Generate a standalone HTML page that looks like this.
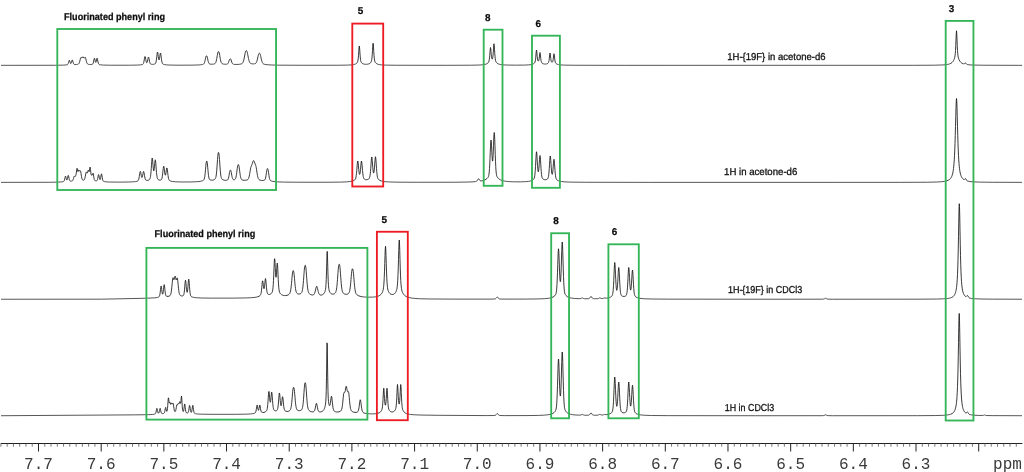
<!DOCTYPE html>
<html><head><meta charset="utf-8"><title>NMR</title>
<style>
html,body{margin:0;padding:0;background:#fff;}
body{width:1024px;height:472px;overflow:hidden;font-family:"Liberation Sans",sans-serif;}
svg{display:block}
.tx{filter:grayscale(1)}
.ax{font-family:"Liberation Mono",monospace;font-size:16px;fill:#3a3a3a}
.b{text-rendering:geometricPrecision;font-family:"Liberation Sans",sans-serif;font-weight:bold;font-size:9.9px;fill:#0c0c0c;stroke:#0c0c0c;stroke-width:0.25px}
.r{text-rendering:geometricPrecision;font-family:"Liberation Sans",sans-serif;font-size:10.0px;fill:#111;stroke:#111;stroke-width:0.3px}
</style></head><body>
<svg width="1024" height="472" viewBox="0 0 1024 472">
<rect width="1024" height="472" fill="#fff"/>
<path d="M1.00,65.34 L55.25,65.27 L63.25,65.13 L66.00,64.95 L67.00,64.79 L67.50,64.59 L67.75,64.37 L68.00,63.99 L68.25,63.40 M73.75,64.00 L74.00,64.28 L74.25,64.42 L75.00,64.56 L76.50,64.54 L77.75,64.35 L78.25,64.16 L78.50,64.00 L78.75,63.75 M87.50,63.88 L87.75,64.08 L88.25,64.30 L89.25,64.48 L90.75,64.54 L92.00,64.42 L92.50,64.22 L92.75,63.99 L93.00,63.57 M98.75,64.15 L99.00,64.40 L99.50,64.64 L100.75,64.87 L103.50,65.08 L110.50,65.22 L129.50,65.23 L137.25,65.09 L140.50,64.87 L142.00,64.62 L142.50,64.46 L142.75,64.33 L143.00,64.12 L143.25,63.76 L143.50,63.19 M150.50,63.95 L150.75,64.13 L151.25,64.29 L152.50,64.38 L153.75,64.28 L154.75,64.03 L155.00,63.91 L155.25,63.72 M162.75,63.92 L163.25,64.24 L164.25,64.54 L166.25,64.85 L169.75,65.07 L178.00,65.19 L192.00,65.14 L198.25,64.97 L201.25,64.72 L202.75,64.45 L203.25,64.27 L203.50,64.13 L203.75,63.92 L204.00,63.61 M209.50,63.90 L210.00,64.09 L211.00,64.22 L212.50,64.21 L213.75,64.05 L214.50,63.84 L214.75,63.72 M222.50,63.84 L223.50,64.10 L225.25,64.26 L226.50,64.23 L227.25,64.07 L227.50,63.94 L227.75,63.74 M232.75,63.90 L233.00,64.08 L233.50,64.27 L234.75,64.43 L237.00,64.46 L239.25,64.30 L241.00,63.99 L241.75,63.73 M251.75,63.76 L253.25,63.88 L254.50,63.80 L255.00,63.69 M263.25,63.76 L263.75,64.06 L264.75,64.36 L267.00,64.69 L271.00,64.97 L278.75,65.16 L301.25,65.28 L338.25,65.24 L347.50,65.10 L351.50,64.88 L353.50,64.61 L354.75,64.30 L355.75,63.89 L356.25,63.59 M363.00,63.79 L364.00,64.10 L365.25,64.27 L366.75,64.27 L368.00,64.10 L369.00,63.80 L369.25,63.70 M376.75,63.76 L377.75,64.20 L379.25,64.59 L381.50,64.89 L385.75,65.11 L396.25,65.26 L446.25,65.31 L471.75,65.21 L479.25,65.03 L482.75,64.78 L484.75,64.47 L486.00,64.12 L487.00,63.67 M498.00,63.76 L499.00,64.17 L500.50,64.54 L502.75,64.83 L506.75,65.05 L515.25,65.16 L524.50,65.09 L528.75,64.89 L531.00,64.62 L532.25,64.33 L533.25,63.94 L533.75,63.65 M543.25,63.79 L544.25,64.02 L545.50,64.07 L546.50,63.93 L547.25,63.68 M556.50,63.88 L557.25,64.24 L558.50,64.60 L560.50,64.89 L564.25,65.11 L573.75,65.26 L625.75,65.33 L913.75,65.30 L934.50,65.19 L941.75,64.99 L945.50,64.73 L947.75,64.40 L949.25,64.03 L950.25,63.66 M963.25,63.76 L963.75,63.87 L964.00,63.86 L964.25,63.78 L964.50,63.62 M966.25,63.89 L966.50,64.17 L966.75,64.37 L967.25,64.57 L969.00,64.81 L973.25,65.06 L982.75,65.23 L1018.25,65.33 L1022.00,65.33" fill="none" stroke="#141414" stroke-width="0.72" stroke-linejoin="round" stroke-linecap="butt"/>
<path d="M68.25,63.40 L68.50,62.59 L68.75,61.65 L69.00,60.78 L69.25,60.32 L69.50,60.48 L69.75,61.16 L70.00,62.04 L70.25,62.82 L70.50,63.36 L70.75,63.57 L71.00,63.43 L71.25,62.96 L71.50,62.19 L71.75,61.24 L72.00,60.36 L72.25,59.91 L72.50,60.13 L72.75,60.91 L73.00,61.90 L73.25,62.83 L73.50,63.53 L73.75,64.00 M78.75,63.75 L79.00,63.38 L79.25,62.86 L79.50,62.16 L79.75,61.29 L80.25,59.24 L80.50,58.30 L80.75,57.62 L81.00,57.33 L81.25,57.40 L81.75,57.85 L82.00,57.86 L82.25,57.63 L82.75,56.84 L83.00,56.70 L83.25,56.92 L83.75,57.84 L84.00,58.12 L84.25,58.13 L84.50,57.88 L84.75,57.52 L85.00,57.27 L85.25,57.35 L85.50,57.86 L85.75,58.72 L86.25,60.80 L86.50,61.76 L86.75,62.54 L87.00,63.15 L87.25,63.58 L87.50,63.88 M93.00,63.57 L93.25,62.89 L93.50,61.88 L94.00,59.31 L94.25,58.39 L94.50,58.26 L94.75,58.98 L95.25,61.29 L95.50,62.10 L95.75,62.38 L96.00,62.10 L96.25,61.29 L96.75,58.97 L97.00,58.26 L97.25,58.40 L97.50,59.35 L98.00,61.97 L98.25,63.00 L98.50,63.72 L98.75,64.15 M143.50,63.19 L143.75,62.33 L144.00,61.14 L144.50,58.20 L144.75,56.99 L145.00,56.50 L145.25,56.92 L145.50,58.05 L145.75,59.46 L146.00,60.81 L146.25,61.86 L146.50,62.51 L146.75,62.75 L147.00,62.57 L147.25,61.98 L147.50,61.01 L147.75,59.76 L148.00,58.45 L148.25,57.40 L148.50,57.00 L148.75,57.45 L149.00,58.55 L149.50,61.25 L149.75,62.34 L150.00,63.13 L150.25,63.64 L150.50,63.95 M155.25,63.72 L155.50,63.41 L155.75,62.89 L156.00,62.04 L156.25,60.75 L156.50,58.97 L156.75,56.81 L157.00,54.56 L157.25,52.75 L157.50,52.00 L157.75,52.62 L158.00,54.28 L158.25,56.34 L158.50,58.20 L158.75,59.49 L159.00,60.00 L159.25,59.67 L159.50,58.57 L159.75,56.91 L160.00,55.05 L160.25,53.55 L160.50,53.00 L160.75,53.71 L161.00,55.39 L161.25,57.47 L161.50,59.48 L161.75,61.13 L162.00,62.33 L162.25,63.13 L162.50,63.62 L162.75,63.92 M204.00,63.61 L204.25,63.16 L204.50,62.53 L204.75,61.69 L205.00,60.66 L205.50,58.28 L205.75,57.20 L206.00,56.40 L206.25,55.95 L206.50,55.80 L206.75,55.93 L207.00,56.36 L207.25,57.14 L207.50,58.21 L208.00,60.55 L208.25,61.56 L208.50,62.38 L208.75,62.99 L209.00,63.43 L209.25,63.71 L209.50,63.90 M214.75,63.72 L215.00,63.55 L215.25,63.31 L215.50,62.97 L215.75,62.48 L216.00,61.82 L216.25,60.94 L216.50,59.85 L216.75,58.54 L217.25,55.58 L217.50,54.15 L217.75,52.96 L218.00,52.12 L218.25,51.65 L218.50,51.50 L218.75,51.65 L219.00,52.12 L219.25,52.95 L219.50,54.14 L219.75,55.58 L220.25,58.54 L220.50,59.85 L220.75,60.94 L221.00,61.82 L221.25,62.48 L221.50,62.97 L221.75,63.31 L222.00,63.55 L222.50,63.84 M227.75,63.74 L228.00,63.43 L228.25,63.01 L228.50,62.45 L228.75,61.76 L229.25,60.23 L229.50,59.56 L229.75,59.10 L230.00,58.85 L230.25,58.80 L230.50,58.93 L230.75,59.27 L231.00,59.83 L231.75,62.09 L232.00,62.73 L232.25,63.25 L232.50,63.63 L232.75,63.90 M241.75,63.73 L242.25,63.40 L242.50,63.14 L242.75,62.81 L243.00,62.36 L243.25,61.78 L243.50,61.04 L243.75,60.15 L244.00,59.09 L244.25,57.89 L245.00,53.93 L245.25,52.76 L245.50,51.82 L245.75,51.16 L246.00,50.76 L246.25,50.61 L246.50,50.67 L246.75,50.95 L247.00,51.50 L247.25,52.32 L247.50,53.39 L247.75,54.65 L248.25,57.30 L248.50,58.54 L248.75,59.65 L249.00,60.60 L249.25,61.38 L249.50,62.01 L249.75,62.50 L250.00,62.86 L250.25,63.14 L250.75,63.48 L251.50,63.72 L251.75,63.76 M255.00,63.69 L255.50,63.47 L255.75,63.28 L256.00,63.01 L256.25,62.65 L256.50,62.17 L256.75,61.55 L257.00,60.78 L257.25,59.87 L257.50,58.83 L258.00,56.57 L258.25,55.49 L258.50,54.57 L258.75,53.88 L259.00,53.44 L259.25,53.23 L259.50,53.22 L259.75,53.41 L260.00,53.82 L260.25,54.48 L260.50,55.38 L260.75,56.45 L261.25,58.76 L261.50,59.84 L261.75,60.80 L262.00,61.62 L262.25,62.29 L262.50,62.82 L262.75,63.23 L263.00,63.54 L263.25,63.76 M356.25,63.59 L356.75,63.18 L357.00,62.91 L357.25,62.55 L357.50,62.05 L357.75,61.29 L358.00,60.07 L358.25,58.15 L358.50,55.35 L358.75,51.76 L359.00,48.09 L359.25,45.97 L359.50,46.93 L359.75,50.21 L360.00,53.96 L360.25,57.09 L360.50,59.34 L360.75,60.81 L361.00,61.72 L361.25,62.29 L361.50,62.68 L361.75,62.97 L362.25,63.38 L363.00,63.79 M369.25,63.70 L370.00,63.26 L370.50,62.83 L370.75,62.54 L371.00,62.16 L371.25,61.64 L371.50,60.85 L371.75,59.57 L372.00,57.54 L372.25,54.52 L372.50,50.53 L372.75,46.20 L373.00,43.21 L373.25,43.59 L373.50,47.04 L373.75,51.42 L374.00,55.24 L374.25,58.06 L374.50,59.93 L374.75,61.10 L375.00,61.84 L375.25,62.33 L375.50,62.70 L376.00,63.23 L376.75,63.76 M487.00,63.67 L487.75,63.14 L488.25,62.62 L488.50,62.25 L488.75,61.74 L489.00,60.97 L489.25,59.76 L489.50,57.91 L489.75,55.29 L490.00,52.06 L490.25,48.96 L490.50,47.50 L490.75,48.68 L491.00,51.50 L491.25,54.43 L491.50,56.71 L491.75,58.18 L492.00,58.92 L492.25,59.06 L492.50,58.63 L492.75,57.53 L493.00,55.57 L493.25,52.61 L493.50,48.88 L493.75,45.29 L494.00,43.75 L494.25,45.51 L494.50,49.33 L494.75,53.31 L495.00,56.53 L495.25,58.80 L495.50,60.27 L495.75,61.20 L496.00,61.82 L496.25,62.25 L496.50,62.59 L497.00,63.10 L497.75,63.62 L498.00,63.76 M533.75,63.65 L534.25,63.24 L534.50,62.96 L534.75,62.58 L535.00,62.00 L535.25,61.06 L535.50,59.56 L535.75,57.30 L536.25,51.41 L536.50,50.00 L536.75,51.25 L537.25,56.81 L537.50,58.89 L537.75,60.19 L538.00,60.87 L538.25,61.13 L538.50,61.03 L538.75,60.55 L539.00,59.56 L539.25,57.93 L539.75,53.49 L540.00,52.50 L540.25,53.66 L540.75,58.45 L541.00,60.29 L541.25,61.51 L541.50,62.27 L541.75,62.74 L542.00,63.05 L542.50,63.44 L543.25,63.79 M547.25,63.68 L547.75,63.40 L548.00,63.19 L548.25,62.91 L548.50,62.47 L548.75,61.74 L549.00,60.55 L549.25,58.77 L549.75,54.10 L550.00,53.00 L550.25,54.02 L550.75,58.50 L551.00,60.18 L551.25,61.26 L551.50,61.86 L551.75,62.15 L552.00,62.25 L552.25,62.19 L552.50,61.94 L552.75,61.41 L553.00,60.42 L553.25,58.86 L553.75,54.69 L554.00,53.75 L554.25,54.81 L554.75,59.23 L555.00,60.93 L555.25,62.06 L555.50,62.77 L555.75,63.20 L556.00,63.49 L556.50,63.88 M950.25,63.66 L951.25,63.12 L952.00,62.54 L952.50,62.03 L953.00,61.40 L953.50,60.61 L953.75,60.13 L954.00,59.58 L954.25,58.95 L954.50,58.19 L954.75,57.23 L955.00,55.86 L955.25,53.78 L955.50,50.53 L955.75,45.78 L956.25,33.59 L956.50,30.80 L956.75,33.59 L957.25,45.77 L957.50,50.53 L957.75,53.77 L958.00,55.85 L958.25,57.22 L958.50,58.18 L958.75,58.94 L959.00,59.57 L959.25,60.11 L959.75,61.01 L960.25,61.71 L960.75,62.27 L961.50,62.90 L962.25,63.36 L963.25,63.76 M964.50,63.62 L965.00,63.10 L965.25,62.92 L965.50,62.94 L965.75,63.18 L966.25,63.89" fill="none" stroke="#141414" stroke-width="0.84" stroke-linejoin="round" stroke-linecap="butt"/>
<path d="M1.00,182.37 L49.50,182.29 L58.25,182.11 L61.50,181.91 L63.00,181.69 L63.50,181.54 L63.75,181.40 L64.00,181.14 L64.25,180.69 M70.00,180.92 L70.25,181.05 L70.75,181.13 L71.75,181.05 L72.25,180.88 L72.50,180.71 M95.50,180.80 L96.25,180.87 L96.75,180.76 L97.00,180.57 M103.00,180.76 L103.25,181.11 L103.50,181.30 L104.25,181.57 L106.00,181.83 L109.50,182.03 L118.00,182.13 L128.25,182.03 L133.00,181.84 L135.50,181.58 L137.00,181.27 L137.50,181.09 L137.75,180.95 L138.00,180.73 M170.00,180.87 L171.00,181.20 L172.75,181.53 L175.75,181.80 L181.25,181.97 L190.00,181.97 L195.75,181.79 L199.00,181.53 L201.00,181.19 L202.25,180.83 L202.50,180.74 M271.00,180.87 L272.00,181.20 L274.00,181.56 L277.50,181.86 L284.25,182.10 L296.75,182.23 L327.00,182.24 L340.50,182.10 L346.50,181.86 L349.75,181.56 L351.75,181.20 L353.25,180.73 M381.00,180.88 L382.75,181.32 L385.25,181.68 L389.25,181.96 L397.00,182.16 L417.25,182.28 L453.25,182.24 L467.00,182.07 L473.00,181.83 L475.50,181.60 L476.25,181.43 L476.75,181.15 L477.00,180.91 L477.25,180.58 M480.50,180.86 L481.00,180.93 L482.25,180.76 M503.25,180.83 L505.50,181.26 L508.75,181.60 L513.75,181.82 L520.25,181.86 L525.25,181.70 L528.25,181.41 L530.25,181.03 L531.25,180.73 M558.50,180.81 L559.75,181.20 L561.75,181.58 L565.00,181.88 L571.00,182.12 L585.50,182.28 L649.50,182.37 L900.75,182.35 L927.25,182.22 L936.75,182.02 L941.50,181.74 L944.50,181.38 L946.50,180.94 L947.00,180.79 M967.25,180.91 L968.00,181.17 L970.00,181.54 L973.25,181.85 L979.25,182.10 L992.25,182.28 L1022.00,182.36" fill="none" stroke="#141414" stroke-width="0.72" stroke-linejoin="round" stroke-linecap="butt"/>
<path d="M64.25,180.69 L64.50,179.95 L64.75,178.90 L65.00,177.67 L65.25,176.58 L65.50,176.10 L65.75,176.49 L66.00,177.49 L66.25,178.61 L66.50,179.49 L66.75,179.97 L67.00,179.96 L67.25,179.47 L67.50,178.52 L68.00,176.06 L68.25,175.42 L68.50,175.72 L68.75,176.80 L69.00,178.12 L69.25,179.29 L69.50,180.14 L69.75,180.65 L70.00,180.92 M72.50,180.71 L72.75,180.42 L73.00,179.95 L73.25,179.26 L73.50,178.37 L73.75,177.39 L74.00,176.56 L74.25,176.16 L74.50,176.22 L74.75,176.48 L75.00,176.62 L75.25,176.47 L75.50,176.10 L75.75,175.55 L76.00,174.68 L76.25,173.23 L76.75,169.31 L77.00,168.30 L77.25,168.73 L77.50,170.01 L77.75,171.20 L78.00,171.67 L78.25,171.36 L78.50,170.63 L78.75,170.05 L79.00,170.03 L79.50,170.90 L79.75,171.06 L80.25,170.69 L80.50,170.90 L80.75,171.82 L81.00,173.32 L81.25,175.03 L81.50,176.63 L81.75,177.93 L82.00,178.86 L82.25,179.46 L82.50,179.82 L82.75,180.03 L83.00,180.13 L83.50,180.16 L83.75,180.11 L84.00,179.98 L84.25,179.74 L84.50,179.33 L84.75,178.70 L85.00,177.79 L85.25,176.62 L85.75,173.82 L86.00,172.63 L86.25,171.96 L86.50,171.94 L86.75,172.40 L87.00,172.92 L87.25,173.09 L87.50,172.67 L87.75,171.72 L88.00,170.63 L88.25,170.02 L88.50,170.29 L88.75,171.12 L89.00,171.70 L89.25,171.39 L89.50,170.08 L89.75,168.27 L90.00,167.05 L90.25,167.49 L90.50,169.51 L90.75,172.05 L91.00,174.09 L91.25,175.12 L91.50,175.24 L91.75,175.02 L92.25,175.05 L92.50,174.62 L92.75,173.79 L93.00,173.19 L93.25,173.58 L93.50,175.00 L93.75,176.76 L94.00,178.32 L94.25,179.42 L94.50,180.08 L94.75,180.43 L95.00,180.62 L95.50,180.80 M97.00,180.57 L97.25,180.17 L97.50,179.46 L97.75,178.37 L98.25,175.52 L98.50,174.60 L98.75,174.69 L99.00,175.73 L99.25,177.15 L99.50,178.45 L99.75,179.32 L100.00,179.67 L100.25,179.45 L100.50,178.67 L100.75,177.37 L101.00,175.78 L101.25,174.37 L101.50,173.80 L101.75,174.46 L102.00,175.97 L102.25,177.67 L102.50,179.12 L102.75,180.14 L103.00,180.76 M138.00,180.73 L138.25,180.40 L138.50,179.89 L138.75,179.13 L139.00,178.05 L139.25,176.67 L139.75,173.45 L140.00,172.11 L140.25,171.43 L140.50,171.64 L140.75,172.61 L141.25,175.42 L141.50,176.58 L141.75,177.30 L142.00,177.47 L142.25,177.08 L142.50,176.17 L142.75,174.88 L143.00,173.44 L143.25,172.18 L143.50,171.46 L143.75,171.58 L144.00,172.50 L144.25,173.93 L144.50,175.50 L144.75,176.96 L145.00,178.15 L145.25,179.03 L145.50,179.62 L145.75,179.99 L146.00,180.21 L146.50,180.39 L147.25,180.41 L148.25,180.23 L149.00,179.92 L149.25,179.75 L149.50,179.52 L149.75,179.18 L150.00,178.64 L150.25,177.78 L150.50,176.44 L150.75,174.46 L151.00,171.78 L151.25,168.44 L151.50,164.75 L151.75,161.26 L152.00,158.76 L152.25,158.01 L152.50,159.25 L152.75,161.91 L153.00,165.10 L153.25,168.01 L153.50,170.05 L153.75,170.88 L154.00,170.39 L154.25,168.70 L154.50,166.16 L154.75,163.31 L155.00,160.91 L155.25,159.81 L155.50,160.50 L155.75,162.80 L156.00,165.99 L156.25,169.36 L156.50,172.41 L156.75,174.86 L157.00,176.66 L157.25,177.88 L157.50,178.67 L157.75,179.15 L158.00,179.46 L158.25,179.65 L158.75,179.89 L159.50,180.07 L160.25,180.08 L160.75,179.99 L161.00,179.89 L161.25,179.70 L161.50,179.39 L161.75,178.86 L162.00,178.02 L162.25,176.77 L162.50,175.05 L162.75,172.90 L163.00,170.52 L163.25,168.27 L163.50,166.67 L163.75,166.22 L164.00,167.06 L164.25,168.84 L164.50,170.99 L164.75,172.98 L165.00,174.45 L165.25,175.18 L165.50,175.08 L165.75,174.19 L166.00,172.69 L166.25,170.86 L166.50,169.14 L166.75,168.05 L167.00,168.04 L167.25,169.15 L167.50,171.03 L167.75,173.20 L168.00,175.27 L168.25,177.02 L168.50,178.35 L168.75,179.29 L169.00,179.91 L169.25,180.31 L169.50,180.56 L170.00,180.87 M202.50,180.74 L203.25,180.36 L203.50,180.16 L203.75,179.90 L204.00,179.51 L204.25,178.91 L204.50,177.99 L204.75,176.65 L205.00,174.79 L205.25,172.42 L205.50,169.65 L205.75,166.74 L206.00,164.13 L206.25,162.24 L206.50,161.24 L206.75,161.01 L207.00,161.50 L207.25,162.82 L207.50,165.00 L207.75,167.75 L208.00,170.62 L208.25,173.22 L208.50,175.35 L208.75,176.96 L209.00,178.08 L209.25,178.82 L209.50,179.28 L209.75,179.57 L210.00,179.76 L210.50,179.97 L211.50,180.15 L212.50,180.13 L213.50,179.93 L214.25,179.65 L214.75,179.34 L215.00,179.11 L215.25,178.78 L215.50,178.31 L215.75,177.60 L216.00,176.54 L216.25,175.02 L216.50,172.93 L216.75,170.23 L217.00,166.97 L217.50,159.68 L217.75,156.47 L218.00,154.13 L218.25,152.81 L218.50,152.40 L218.75,152.81 L219.00,154.13 L219.25,156.47 L219.50,159.69 L220.00,166.98 L220.25,170.24 L220.50,172.94 L220.75,175.03 L221.00,176.56 L221.25,177.62 L221.50,178.33 L221.75,178.81 L222.00,179.14 L222.50,179.55 L223.25,179.91 L224.25,180.19 L225.50,180.33 L226.50,180.28 L227.25,180.09 L227.50,179.94 L227.75,179.70 L228.00,179.33 L228.25,178.77 L228.50,177.97 L228.75,176.91 L229.00,175.60 L229.50,172.67 L229.75,171.43 L230.00,170.59 L230.25,170.17 L230.50,170.12 L230.75,170.43 L231.00,171.16 L231.25,172.31 L231.75,175.17 L232.00,176.49 L232.25,177.57 L232.50,178.39 L232.75,178.96 L233.00,179.32 L233.25,179.54 L233.50,179.66 L234.00,179.72 L234.50,179.63 L234.75,179.51 L235.00,179.33 L235.25,179.04 L235.50,178.59 L235.75,177.94 L236.00,177.03 L236.25,175.81 L236.50,174.28 L236.75,172.48 L237.25,168.55 L237.50,166.83 L237.75,165.55 L238.00,164.79 L238.25,164.51 L238.50,164.64 L238.75,165.21 L239.00,166.29 L239.25,167.86 L239.50,169.77 L239.75,171.77 L240.00,173.66 L240.25,175.32 L240.50,176.68 L240.75,177.73 L241.00,178.50 L241.25,179.04 L241.50,179.41 L241.75,179.66 L242.25,179.95 L243.00,180.16 L244.25,180.29 L245.75,180.22 L246.75,180.02 L247.50,179.72 L247.75,179.54 L248.00,179.31 L248.25,178.97 L248.50,178.52 L248.75,177.90 L249.00,177.09 L249.25,176.07 L249.50,174.84 L249.75,173.43 L250.25,170.36 L250.50,168.92 L250.75,167.71 L251.00,166.79 L251.25,166.13 L251.75,165.10 L252.00,164.50 L252.25,163.79 L252.75,162.15 L253.00,161.40 L253.25,160.85 L253.50,160.60 L253.75,160.68 L254.00,161.05 L254.25,161.62 L254.75,162.94 L255.50,164.75 L255.75,165.50 L256.00,166.50 L256.25,167.81 L256.50,169.37 L257.00,172.73 L257.25,174.28 L257.50,175.64 L257.75,176.78 L258.00,177.69 L258.25,178.39 L258.50,178.92 L258.75,179.30 L259.00,179.57 L259.50,179.93 L260.25,180.21 L261.50,180.45 L262.75,180.52 L263.75,180.42 L264.25,180.27 L264.50,180.13 L264.75,179.91 L265.00,179.54 L265.25,178.98 L265.50,178.16 L265.75,177.03 L266.00,175.60 L266.25,173.92 L266.50,172.16 L266.75,170.56 L267.00,169.36 L267.25,168.69 L267.50,168.50 L267.75,168.73 L268.00,169.43 L268.25,170.66 L268.50,172.29 L268.75,174.09 L269.00,175.80 L269.25,177.27 L269.50,178.43 L269.75,179.29 L270.00,179.89 L270.25,180.29 L270.50,180.56 L271.00,180.87 M353.25,180.73 L354.25,180.24 L354.75,179.87 L355.00,179.62 L355.25,179.28 L355.50,178.80 L355.75,178.08 L356.00,177.01 L356.25,175.45 L356.50,173.33 L356.75,170.63 L357.25,164.45 L357.50,162.01 L357.75,161.00 L358.00,161.78 L358.25,163.98 L358.75,169.60 L359.00,171.92 L359.25,173.55 L359.50,174.37 L359.75,174.37 L360.00,173.54 L360.25,171.92 L360.50,169.61 L361.00,164.00 L361.25,161.80 L361.50,161.00 L361.75,161.97 L362.00,164.35 L362.50,170.40 L362.75,173.03 L363.00,175.10 L363.25,176.60 L363.50,177.62 L363.75,178.29 L364.00,178.72 L364.25,179.00 L364.75,179.35 L365.50,179.61 L366.25,179.70 L367.00,179.66 L367.75,179.47 L368.50,179.10 L368.75,178.91 L369.00,178.65 L369.25,178.30 L369.50,177.77 L369.75,176.95 L370.00,175.72 L370.25,173.91 L370.50,171.43 L370.75,168.27 L371.25,161.02 L371.50,158.17 L371.75,157.00 L372.00,157.95 L372.25,160.57 L372.75,167.26 L373.00,170.02 L373.25,171.95 L373.50,172.92 L373.75,172.91 L374.00,171.91 L374.25,169.94 L374.50,167.14 L375.00,160.35 L375.25,157.70 L375.50,156.75 L375.75,157.97 L376.00,160.90 L376.50,168.34 L376.75,171.58 L377.00,174.15 L377.25,176.02 L377.50,177.31 L377.75,178.17 L378.00,178.75 L378.25,179.15 L378.50,179.45 L379.00,179.89 L379.75,180.35 L381.00,180.88 M477.25,180.58 L477.75,179.71 L478.00,179.26 L478.25,178.90 L478.50,178.75 L478.75,178.85 L479.00,179.15 L479.50,179.95 L479.75,180.31 L480.00,180.58 L480.25,180.76 L480.50,180.86 M482.25,180.76 L483.75,180.36 L485.00,179.85 L486.00,179.27 L487.00,178.49 L487.75,177.71 L488.00,177.37 L488.25,176.95 L488.50,176.35 L488.75,175.46 L489.00,174.05 L489.25,171.85 L489.50,168.58 L489.75,164.08 L490.00,158.45 L490.25,152.22 L490.50,146.27 L490.75,141.82 L491.00,140.00 L491.25,141.28 L491.50,145.11 L492.00,155.38 L492.25,159.28 L492.50,161.12 L492.75,160.47 L493.00,157.28 L493.25,151.97 L493.50,145.42 L493.75,138.95 L494.00,134.16 L494.25,132.50 L494.50,134.61 L494.75,139.91 L495.00,147.03 L495.25,154.51 L495.50,161.24 L495.75,166.63 L496.00,170.53 L496.25,173.15 L496.50,174.80 L496.75,175.84 L497.00,176.52 L497.25,177.00 L497.75,177.69 L498.50,178.47 L499.50,179.26 L500.50,179.85 L501.75,180.39 L503.25,180.83 M531.25,180.73 L532.25,180.28 L533.00,179.79 L533.50,179.33 L533.75,179.02 L534.00,178.61 L534.25,178.02 L534.50,177.12 L534.75,175.73 L535.00,173.63 L535.25,170.63 L535.50,166.68 L535.75,162.01 L536.00,157.21 L536.25,153.35 L536.50,151.75 L536.75,153.06 L537.00,156.61 L537.25,161.07 L537.50,165.33 L537.75,168.73 L538.00,170.92 L538.25,171.81 L538.50,171.39 L538.75,169.71 L539.00,166.94 L539.25,163.37 L539.50,159.60 L539.75,156.60 L540.00,155.50 L540.25,156.89 L540.50,160.20 L540.75,164.31 L541.00,168.31 L541.25,171.68 L541.50,174.24 L541.75,176.03 L542.00,177.21 L542.25,177.96 L542.50,178.44 L542.75,178.77 L543.25,179.19 L544.00,179.55 L544.75,179.72 L545.50,179.74 L546.25,179.62 L547.00,179.31 L547.50,178.93 L547.75,178.62 L548.00,178.16 L548.25,177.43 L548.50,176.28 L548.75,174.52 L549.00,171.99 L549.25,168.64 L549.50,164.68 L549.75,160.60 L550.00,157.33 L550.25,156.00 L550.50,157.17 L550.75,160.26 L551.00,164.14 L551.25,167.88 L551.50,170.93 L551.75,173.05 L552.00,174.18 L552.25,174.35 L552.50,173.56 L552.75,171.86 L553.00,169.31 L553.25,166.14 L553.50,162.83 L553.75,160.21 L554.00,159.25 L554.25,160.46 L554.50,163.35 L554.75,166.95 L555.00,170.44 L555.25,173.40 L555.50,175.64 L555.75,177.22 L556.00,178.27 L556.25,178.95 L556.50,179.40 L556.75,179.72 L557.25,180.15 L558.00,180.59 L558.50,180.81 M947.00,180.79 L948.25,180.28 L949.25,179.68 L950.00,179.04 L950.50,178.49 L951.00,177.80 L951.50,176.90 L951.75,176.35 L952.00,175.72 L952.25,174.98 L952.50,174.12 L952.75,173.09 L953.00,171.86 L953.25,170.37 L953.50,168.54 L953.75,166.27 L954.00,163.44 L954.25,159.92 L954.50,155.52 L954.75,150.08 L955.00,143.45 L955.25,135.55 L955.50,126.51 L955.75,116.85 L956.00,107.75 L956.25,101.02 L956.50,98.50 L956.75,101.02 L957.00,107.75 L957.25,116.84 L957.50,126.50 L957.75,135.54 L958.00,143.44 L958.25,150.07 L958.50,155.50 L958.75,159.90 L959.00,163.42 L959.25,166.25 L959.50,168.51 L959.75,170.34 L960.00,171.83 L960.25,173.06 L960.50,174.08 L960.75,174.94 L961.00,175.67 L961.25,176.30 L961.50,176.84 L962.00,177.72 L962.50,178.40 L963.00,178.93 L963.50,179.32 L963.75,179.45 L964.00,179.53 L964.25,179.51 L964.50,179.38 L965.25,178.64 L965.50,178.60 L965.75,178.83 L966.50,180.18 L966.75,180.51 L967.00,180.75 L967.25,180.91" fill="none" stroke="#141414" stroke-width="0.84" stroke-linejoin="round" stroke-linecap="butt"/>
<path d="M1.00,299.24 L101.50,299.18 L141.00,298.36 L153.00,297.94 L156.00,297.69 L157.75,297.36 L158.50,297.11 L159.00,296.82 L159.25,296.54 M191.75,296.77 L192.75,297.15 L194.25,297.49 L196.75,297.78 L201.50,298.00 L212.50,298.14 L234.50,298.10 L246.25,297.92 L251.75,297.68 L255.00,297.36 L257.00,296.98 L258.00,296.69 M362.50,296.79 L365.25,297.07 L368.75,297.18 L372.75,297.10 L375.25,296.86 L375.50,296.82 M408.75,297.47 L411.00,297.95 L414.25,298.37 L419.75,298.76 L429.50,298.98 L454.75,299.12 L490.00,299.12 L494.25,299.02 L495.00,298.93 L495.50,298.74 L495.75,298.57 L496.00,298.33 L496.75,297.35 M498.00,297.69 L498.50,298.33 L498.75,298.57 L499.25,298.86 L500.00,299.00 L504.25,299.11 L526.50,299.08 L539.00,298.91 L544.75,298.67 L548.25,298.34 L550.50,297.93 L551.75,297.57 M569.75,297.70 L571.50,298.10 L574.25,298.45 L578.00,298.67 L580.00,298.68 L580.75,298.54 L581.50,298.18 L582.00,297.94 L582.25,297.90 L582.50,297.94 L583.75,298.58 L584.50,298.74 L587.00,298.77 L588.50,298.69 L589.00,298.56 L589.25,298.44 L589.50,298.25 L589.75,297.98 L590.00,297.65 M592.25,297.98 L592.50,298.24 L592.75,298.43 L593.25,298.63 L594.50,298.75 L597.25,298.73 L598.00,298.63 L598.75,298.33 L599.50,297.95 L599.75,297.90 L600.00,297.93 L601.25,298.46 L602.00,298.55 L602.75,298.49 L603.50,298.25 L604.25,297.95 L604.75,297.91 L606.00,298.20 L607.00,298.17 L608.50,297.89 L609.50,297.58 M637.25,297.67 L638.75,298.12 L641.00,298.49 L644.50,298.78 L651.25,299.00 L668.50,299.15 L762.00,299.23 L821.50,299.19 L823.50,299.10 L824.25,298.88 L825.25,298.34 L825.50,298.30 L825.75,298.34 L827.00,298.98 L827.75,299.13 L832.50,299.22 L918.75,299.18 L936.50,299.04 L943.50,298.83 L947.25,298.53 L949.50,298.17 L951.00,297.75 L951.50,297.56 M969.00,297.67 L969.25,297.87 L969.75,298.11 L971.25,298.43 L974.25,298.74 L979.75,298.98 L992.25,299.15 L1022.00,299.22" fill="none" stroke="#141414" stroke-width="0.72" stroke-linejoin="round" stroke-linecap="butt"/>
<path d="M159.25,296.54 L159.50,296.05 L159.75,295.21 L160.00,293.87 L160.25,291.98 L160.50,289.69 L160.75,287.47 L161.00,286.06 L161.25,286.15 L161.50,287.64 L161.75,289.76 L162.00,291.80 L162.25,293.31 L162.50,294.09 L162.75,294.08 L163.00,293.28 L163.25,291.69 L163.50,289.47 L163.75,287.04 L164.00,285.14 L164.25,284.64 L164.50,285.85 L164.75,288.13 L165.00,290.63 L165.25,292.77 L165.50,294.31 L165.75,295.27 L166.00,295.81 L166.25,296.10 L166.50,296.24 L167.00,296.37 L168.00,296.37 L169.00,296.15 L169.50,295.94 L170.00,295.58 L170.25,295.29 L170.50,294.86 L170.75,294.20 L171.00,293.24 L171.25,291.88 L171.50,290.06 L171.75,287.78 L172.00,285.17 L172.25,282.46 L172.50,280.03 L172.75,278.33 L173.00,277.67 L173.25,278.00 L173.50,278.85 L173.75,279.62 L174.00,279.85 L174.25,279.35 L174.50,278.26 L174.75,277.00 L175.00,276.18 L175.25,276.29 L175.50,277.26 L175.75,278.55 L176.00,279.58 L176.25,279.96 L176.50,279.63 L177.00,278.07 L177.25,277.92 L177.50,278.78 L177.75,280.62 L178.00,283.10 L178.25,285.76 L178.50,288.27 L178.75,290.42 L179.00,292.11 L179.25,293.36 L179.50,294.22 L179.75,294.80 L180.00,295.17 L180.25,295.42 L180.75,295.71 L181.50,295.91 L182.25,295.93 L182.75,295.84 L183.00,295.74 L183.25,295.58 L183.50,295.28 L183.75,294.73 L184.00,293.77 L184.25,292.21 L184.50,289.92 L184.75,287.00 L185.00,283.86 L185.25,281.27 L185.50,280.20 L185.75,281.16 L186.00,283.64 L186.25,286.64 L186.50,289.35 L186.75,291.31 L187.00,292.29 L187.25,292.23 L187.50,291.12 L187.75,289.00 L188.00,286.07 L188.25,282.86 L188.50,280.21 L188.75,279.20 L189.00,280.39 L189.25,283.22 L189.50,286.66 L189.75,289.85 L190.00,292.36 L190.25,294.10 L190.50,295.19 L190.75,295.84 L191.00,296.22 L191.25,296.46 L191.75,296.77 M258.00,296.69 L259.00,296.27 L259.75,295.80 L260.00,295.59 L260.25,295.31 L260.50,294.92 L260.75,294.34 L261.00,293.44 L261.25,292.09 L261.50,290.21 L261.75,287.79 L262.00,285.06 L262.25,282.51 L262.50,280.91 L262.75,280.90 L263.00,282.39 L263.25,284.59 L263.50,286.71 L263.75,288.20 L264.00,288.74 L264.25,288.22 L264.50,286.66 L264.75,284.29 L265.00,281.60 L265.25,279.35 L265.50,278.50 L265.75,279.54 L266.00,282.00 L266.25,284.99 L266.50,287.81 L266.75,290.09 L267.00,291.75 L267.25,292.84 L267.50,293.52 L267.75,293.93 L268.00,294.17 L268.50,294.41 L269.25,294.47 L270.00,294.31 L270.75,293.92 L271.25,293.50 L271.75,292.89 L272.00,292.48 L272.25,291.91 L272.50,291.08 L272.75,289.79 L273.00,287.76 L273.25,284.68 L273.50,280.31 L273.75,274.70 L274.00,268.36 L274.25,262.44 L274.50,258.76 L274.75,258.84 L275.00,262.42 L275.25,267.64 L275.50,272.60 L275.75,276.04 L276.00,277.27 L276.25,276.17 L276.50,273.09 L276.75,268.90 L277.00,264.97 L277.25,263.09 L277.50,264.49 L277.75,268.69 L278.00,274.13 L278.25,279.45 L278.50,283.91 L278.75,287.24 L279.00,289.53 L279.25,291.03 L279.50,291.99 L279.75,292.64 L280.00,293.11 L280.25,293.47 L280.75,294.03 L281.50,294.63 L282.25,295.03 L283.25,295.37 L284.50,295.56 L285.75,295.55 L287.00,295.33 L288.00,294.98 L288.75,294.56 L289.25,294.14 L289.50,293.84 L289.75,293.44 L290.00,292.90 L290.25,292.16 L290.50,291.14 L290.75,289.79 L291.00,288.06 L291.25,285.91 L291.50,283.37 L291.75,280.57 L292.00,277.68 L292.25,275.01 L292.50,272.88 L292.75,271.48 L293.00,270.77 L293.25,270.61 L293.50,270.94 L293.75,271.87 L294.00,273.53 L294.25,275.88 L294.50,278.64 L294.75,281.49 L295.00,284.17 L295.25,286.51 L295.50,288.46 L295.75,289.99 L296.00,291.16 L296.25,292.01 L296.50,292.62 L296.75,293.04 L297.00,293.34 L297.50,293.72 L298.25,293.98 L299.00,294.04 L299.75,293.94 L300.50,293.66 L301.00,293.33 L301.25,293.09 L301.50,292.77 L301.75,292.33 L302.00,291.72 L302.25,290.86 L302.50,289.67 L302.75,288.08 L303.00,286.02 L303.25,283.47 L303.50,280.46 L303.75,277.11 L304.00,273.66 L304.25,270.48 L304.50,267.95 L304.75,266.30 L305.00,265.48 L305.25,265.31 L305.50,265.75 L305.75,266.90 L306.00,268.93 L306.25,271.78 L306.50,275.14 L306.75,278.60 L307.00,281.86 L307.25,284.72 L307.50,287.10 L307.75,288.99 L308.00,290.44 L308.25,291.51 L308.50,292.29 L308.75,292.85 L309.00,293.27 L309.25,293.59 L309.75,294.04 L310.50,294.49 L311.50,294.84 L312.50,294.98 L313.25,294.88 L313.50,294.77 L313.75,294.61 L314.00,294.36 L314.25,294.00 L314.50,293.52 L314.75,292.89 L315.00,292.10 L315.25,291.16 L316.00,287.93 L316.25,287.03 L316.50,286.45 L316.75,286.31 L317.00,286.65 L317.25,287.38 L317.50,288.38 L318.00,290.59 L318.25,291.61 L318.50,292.50 L318.75,293.23 L319.00,293.81 L319.25,294.25 L319.50,294.57 L319.75,294.79 L320.25,295.02 L321.00,295.09 L321.75,294.97 L322.50,294.68 L323.25,294.20 L323.75,293.72 L324.25,293.05 L324.50,292.63 L324.75,292.11 L325.00,291.47 L325.25,290.64 L325.50,289.44 L325.75,287.56 L326.00,284.44 L326.25,279.38 L326.50,271.94 L326.75,262.59 L327.00,253.99 L327.25,251.38 L327.50,257.00 L327.75,266.40 L328.00,275.12 L328.25,281.56 L328.50,285.73 L328.75,288.25 L329.00,289.78 L329.25,290.77 L329.50,291.48 L329.75,292.03 L330.00,292.48 L330.25,292.84 L330.75,293.39 L331.25,293.76 L332.00,294.07 L332.75,294.17 L333.50,294.08 L334.25,293.81 L334.75,293.50 L335.00,293.28 L335.25,293.00 L335.50,292.62 L335.75,292.11 L336.00,291.40 L336.25,290.42 L336.50,289.10 L336.75,287.36 L337.00,285.15 L337.25,282.45 L337.50,279.33 L338.00,272.44 L338.25,269.29 L338.50,266.81 L338.75,265.20 L339.00,264.38 L339.25,264.21 L339.50,264.62 L339.75,265.73 L340.00,267.70 L340.25,270.48 L340.50,273.81 L340.75,277.29 L341.00,280.61 L341.25,283.57 L341.50,286.07 L341.75,288.09 L342.00,289.66 L342.25,290.83 L342.50,291.69 L342.75,292.32 L343.00,292.78 L343.25,293.12 L343.75,293.58 L344.50,294.00 L345.25,294.23 L346.25,294.33 L347.00,294.25 L347.75,294.01 L348.25,293.72 L348.50,293.50 L348.75,293.21 L349.00,292.81 L349.25,292.25 L349.50,291.48 L349.75,290.41 L350.00,289.00 L350.25,287.18 L350.50,284.94 L350.75,282.31 L351.00,279.40 L351.25,276.40 L351.50,273.60 L351.75,271.33 L352.00,269.79 L352.25,268.98 L352.50,268.75 L352.75,269.02 L353.00,269.88 L353.25,271.46 L353.50,273.77 L353.75,276.62 L354.00,279.67 L354.25,282.63 L354.50,285.30 L354.75,287.59 L355.00,289.45 L355.25,290.92 L355.50,292.04 L355.75,292.87 L356.00,293.48 L356.25,293.94 L356.50,294.29 L357.00,294.80 L357.75,295.33 L358.75,295.82 L360.25,296.33 L362.25,296.75 L362.50,296.79 M375.50,296.82 L377.25,296.45 L378.50,296.03 L379.50,295.53 L380.25,295.01 L381.00,294.32 L381.50,293.71 L382.00,292.94 L382.25,292.47 L382.50,291.92 L382.75,291.25 L383.00,290.40 L383.25,289.27 L383.50,287.67 L383.75,285.36 L384.00,282.01 L384.25,277.32 L384.50,271.14 L384.75,263.63 L385.00,255.62 L385.25,248.95 L385.50,246.25 L385.75,248.92 L386.00,255.56 L386.25,263.54 L386.50,271.02 L386.75,277.17 L387.00,281.82 L387.25,285.14 L387.50,287.42 L387.75,288.99 L388.00,290.08 L388.25,290.89 L388.50,291.52 L388.75,292.03 L389.00,292.46 L389.50,293.13 L390.00,293.63 L390.75,294.13 L391.50,294.41 L392.25,294.51 L393.00,294.42 L393.75,294.15 L394.50,293.66 L395.00,293.17 L395.50,292.52 L395.75,292.11 L396.00,291.63 L396.25,291.05 L396.50,290.34 L396.75,289.44 L397.00,288.20 L397.25,286.44 L397.50,283.87 L397.75,280.13 L398.00,274.88 L398.25,267.94 L398.50,259.51 L398.75,250.50 L399.00,243.01 L399.25,240.00 L399.50,243.06 L399.75,250.60 L400.00,259.66 L400.25,268.14 L400.50,275.13 L400.75,280.43 L401.00,284.23 L401.25,286.85 L401.50,288.67 L401.75,289.95 L402.00,290.92 L402.25,291.69 L402.50,292.32 L402.75,292.86 L403.25,293.76 L403.75,294.47 L404.50,295.29 L405.25,295.91 L406.25,296.53 L407.50,297.08 L408.75,297.47 M496.75,297.35 L497.00,297.10 L497.25,297.00 L497.50,297.10 L497.75,297.35 L498.00,297.69 M551.75,297.57 L553.00,297.04 L554.00,296.41 L554.75,295.74 L555.25,295.12 L555.50,294.71 L555.75,294.19 L556.00,293.46 L556.25,292.36 L556.50,290.66 L556.75,288.06 L557.00,284.23 L557.25,278.95 L557.50,272.26 L557.75,264.62 L558.00,257.05 L558.25,251.16 L558.50,248.75 L558.75,250.68 L559.00,256.06 L559.50,270.02 L559.75,275.81 L560.00,279.81 L560.25,281.68 L560.50,281.31 L560.75,278.64 L561.00,273.73 L561.25,266.86 L561.75,250.56 L562.00,244.29 L562.25,242.00 L562.50,244.71 L562.75,251.42 L563.00,260.07 L563.25,268.80 L563.50,276.45 L563.75,282.48 L564.00,286.85 L564.25,289.81 L564.50,291.73 L564.75,292.97 L565.00,293.79 L565.25,294.37 L565.50,294.81 L566.00,295.49 L566.75,296.22 L567.50,296.75 L568.50,297.26 L569.75,297.70 M590.00,297.65 L590.50,296.89 L590.75,296.61 L591.00,296.50 L591.25,296.61 L591.50,296.89 L592.25,297.98 M609.50,297.58 L610.50,297.13 L611.25,296.63 L611.75,296.16 L612.00,295.83 L612.25,295.38 L612.50,294.71 L612.75,293.65 L613.00,291.96 L613.25,289.37 L613.50,285.64 L613.75,280.72 L614.00,274.94 L614.25,269.05 L614.50,264.39 L614.75,262.50 L615.00,264.15 L615.25,268.58 L615.50,274.21 L615.75,279.72 L616.00,284.31 L616.25,287.62 L616.50,289.61 L616.75,290.38 L617.00,290.00 L617.25,288.47 L617.50,285.77 L617.75,281.95 L618.00,277.33 L618.25,272.60 L618.50,268.88 L618.75,267.50 L619.00,269.10 L619.25,273.05 L619.50,278.03 L619.75,282.92 L620.00,287.06 L620.25,290.20 L620.50,292.38 L620.75,293.79 L621.00,294.66 L621.25,295.20 L621.50,295.55 L621.75,295.80 L622.25,296.12 L623.00,296.39 L623.75,296.48 L624.50,296.41 L625.25,296.16 L625.75,295.85 L626.00,295.62 L626.25,295.27 L626.50,294.73 L626.75,293.86 L627.00,292.46 L627.25,290.28 L627.50,287.12 L627.75,282.96 L628.00,278.05 L628.25,273.06 L628.50,269.10 L628.75,267.50 L629.00,268.91 L629.25,272.67 L629.50,277.45 L629.75,282.10 L630.00,285.91 L630.25,288.56 L630.50,289.94 L630.75,290.07 L631.00,288.96 L631.25,286.63 L631.50,283.20 L631.75,278.99 L632.00,274.65 L632.25,271.25 L632.50,270.00 L632.75,271.52 L633.00,275.20 L633.25,279.84 L633.50,284.40 L633.75,288.27 L634.00,291.22 L634.25,293.27 L634.50,294.61 L634.75,295.45 L635.00,296.00 L635.25,296.36 L635.75,296.85 L636.50,297.33 L637.25,297.67 M951.50,297.56 L952.50,297.04 L953.25,296.48 L953.75,295.98 L954.25,295.33 L954.50,294.93 L954.75,294.48 L955.00,293.94 L955.25,293.31 L955.50,292.57 L955.75,291.68 L956.00,290.60 L956.25,289.27 L956.50,287.60 L956.75,285.48 L957.00,282.73 L957.25,279.11 L957.50,274.31 L957.75,267.95 L958.00,259.64 L958.25,249.06 L958.50,236.24 L958.75,222.25 L959.00,209.95 L959.25,203.69 L959.50,206.47 L959.75,216.90 L960.00,230.67 L960.25,244.16 L960.50,255.68 L960.75,264.87 L961.00,271.95 L961.25,277.32 L961.50,281.37 L961.75,284.43 L962.00,286.78 L962.25,288.61 L962.50,290.05 L962.75,291.22 L963.00,292.17 L963.25,292.97 L963.50,293.63 L963.75,294.19 L964.00,294.67 L964.50,295.43 L965.00,295.99 L965.50,296.37 L965.75,296.48 L966.00,296.50 L966.25,296.43 L966.50,296.26 L967.00,295.74 L967.25,295.53 L967.50,295.50 L967.75,295.71 L968.00,296.10 L968.50,297.02 L968.75,297.39 L969.00,297.67" fill="none" stroke="#141414" stroke-width="0.84" stroke-linejoin="round" stroke-linecap="butt"/>
<path d="M1.00,415.73 L134.50,414.86 L148.50,414.66 L152.50,414.46 L154.25,414.24 L155.00,414.03 L155.25,413.88 L155.50,413.60 L155.75,413.08 M158.50,413.22 L158.75,413.07 M161.50,413.22 L161.75,413.44 L162.00,413.54 L162.75,413.56 L163.50,413.43 L164.00,413.19 L164.25,412.92 M187.25,412.95 L187.50,412.94 M194.25,412.93 L194.50,413.28 L194.75,413.46 L195.50,413.72 L197.25,413.98 L201.25,414.18 L212.00,414.32 L235.75,414.32 L246.25,414.17 L250.50,413.95 L252.75,413.68 L254.00,413.39 L254.75,413.10 L255.00,412.96 M365.00,413.27 L366.75,413.59 L369.25,413.81 L372.50,413.88 L375.25,413.73 L377.25,413.43 L377.75,413.31 M406.75,413.67 L408.25,414.09 L410.50,414.46 L414.25,414.79 L421.00,415.06 L438.25,415.31 L486.25,415.59 L493.75,415.53 L495.00,415.42 L495.50,415.23 L495.75,415.06 L496.00,414.83 L496.75,413.85 M498.00,414.19 L498.50,414.84 L498.75,415.07 L499.25,415.36 L500.00,415.51 L504.25,415.62 L526.00,415.58 L538.25,415.41 L544.25,415.15 L547.75,414.81 L550.00,414.41 L551.00,414.14 M570.25,414.19 L572.25,414.62 L575.00,414.94 L578.75,415.14 L580.25,415.12 L581.00,414.92 L582.00,414.44 L582.25,414.40 L582.50,414.44 L583.75,415.06 L584.50,415.21 L587.25,415.25 L588.50,415.17 L589.00,415.04 L589.25,414.92 L589.50,414.73 L589.75,414.47 L590.00,414.14 M592.25,414.47 L592.50,414.73 L592.75,414.91 L593.25,415.12 L594.50,415.23 L597.25,415.21 L598.00,415.11 L598.75,414.82 L599.50,414.45 L599.75,414.40 L600.25,414.52 L601.25,414.94 L602.00,415.03 L602.75,414.96 L603.50,414.74 L604.25,414.45 L604.75,414.40 L606.00,414.66 L607.00,414.62 L608.50,414.32 L609.25,414.09 M637.50,414.19 L639.00,414.62 L641.25,414.99 L644.75,415.27 L651.50,415.50 L668.50,415.65 L755.50,415.73 L821.25,415.70 L823.25,415.63 L824.00,415.48 L825.25,414.84 L825.50,414.80 L825.75,414.84 L827.00,415.48 L827.75,415.63 L832.50,415.72 L917.50,415.68 L935.75,415.54 L942.75,415.33 L946.50,415.05 L948.75,414.73 L950.50,414.29 L951.00,414.11 M969.25,414.33 L969.75,414.57 L971.25,414.89 L974.00,415.19 L978.75,415.43 L982.75,415.47 L983.25,415.40 L983.75,415.21 L984.25,414.95 L984.50,414.90 L984.75,414.96 L985.50,415.35 L986.25,415.52 L992.75,415.64 L1022.00,415.72" fill="none" stroke="#141414" stroke-width="0.72" stroke-linejoin="round" stroke-linecap="butt"/>
<path d="M155.75,413.08 L156.00,412.21 L156.25,410.98 L156.50,409.58 L156.75,408.52 L157.00,408.38 L157.25,409.23 L157.50,410.53 L157.75,411.75 L158.00,412.61 L158.25,413.08 L158.50,413.22 M158.75,413.07 L159.00,412.59 L159.25,411.73 L159.50,410.53 L159.75,409.24 L160.00,408.39 L160.25,408.49 L160.50,409.49 L160.75,410.80 L161.00,411.95 L161.25,412.75 L161.50,413.22 M164.25,412.92 L164.50,412.39 L164.75,411.46 L165.00,410.09 L165.25,408.55 L165.50,407.44 L165.75,407.47 L166.00,408.51 L166.25,409.83 L166.50,410.85 L166.75,411.33 L167.00,411.19 L167.25,410.28 L167.50,408.37 L167.75,405.34 L168.00,401.64 L168.25,398.59 L168.50,397.85 L168.75,399.52 L169.00,401.76 L169.25,403.02 L169.50,402.97 L169.75,402.35 L170.00,402.30 L170.25,403.12 L170.50,404.08 L170.75,404.47 L171.00,404.10 L171.25,403.35 L171.50,402.90 L171.75,403.12 L172.00,403.70 L172.25,404.05 L172.50,403.89 L172.75,403.38 L173.00,403.10 L173.25,403.66 L173.50,405.11 L173.75,406.95 L174.00,408.70 L174.25,410.06 L174.50,410.95 L174.75,411.44 L175.00,411.61 L175.25,411.52 L175.50,411.13 L175.75,410.39 L176.00,409.26 L176.25,407.80 L176.50,406.25 L176.75,405.01 L177.00,404.48 L177.25,404.59 L177.50,404.81 L177.75,404.66 L178.25,403.47 L178.50,403.31 L178.75,403.62 L179.00,403.83 L179.25,403.45 L179.50,402.55 L179.75,401.72 L180.00,401.74 L180.25,402.63 L180.50,403.35 L180.75,402.75 L181.00,400.42 L181.25,397.39 L181.50,396.10 L181.75,398.32 L182.00,402.59 L182.25,406.61 L182.50,409.33 L182.75,410.75 L183.00,411.34 L183.25,411.44 L183.50,411.09 L183.75,410.16 L184.00,408.52 L184.25,406.38 L184.50,404.47 L184.75,403.95 L185.00,405.30 L185.25,407.58 L185.50,409.73 L185.75,411.25 L186.00,412.13 L186.25,412.57 L186.50,412.77 L187.00,412.93 L187.25,412.95 M187.50,412.94 L187.75,412.88 L188.00,412.71 L188.25,412.33 L188.50,411.57 L188.75,410.30 L189.00,408.54 L189.25,406.67 L189.50,405.43 L189.75,405.57 L190.00,407.00 L190.25,408.88 L190.50,410.52 L190.75,411.64 L191.00,412.23 L191.25,412.36 L191.50,412.07 L191.75,411.28 L192.00,409.93 L192.50,406.31 L192.75,405.32 L193.00,405.83 L193.25,407.51 L193.50,409.49 L193.75,411.15 L194.00,412.28 L194.25,412.93 M255.00,412.96 L255.25,412.76 L255.50,412.44 L255.75,411.90 L256.00,411.02 L256.25,409.72 L256.50,408.05 L256.75,406.31 L257.00,405.14 L257.25,405.19 L257.50,406.37 L257.75,407.94 L258.00,409.30 L258.25,410.14 L258.50,410.34 L258.75,409.87 L259.00,408.81 L259.50,405.83 L259.75,405.02 L260.00,405.45 L260.25,406.85 L260.50,408.52 L260.75,409.98 L261.00,411.03 L261.25,411.68 L261.50,412.05 L261.75,412.26 L262.25,412.43 L263.00,412.48 L264.00,412.36 L265.00,412.02 L265.75,411.58 L266.25,411.14 L266.50,410.82 L266.75,410.36 L267.00,409.66 L267.25,408.58 L267.50,406.93 L267.75,404.56 L268.00,401.46 L268.25,397.85 L268.50,394.32 L268.75,391.84 L269.00,391.41 L269.25,393.12 L269.50,396.02 L269.75,398.99 L270.00,401.23 L270.25,402.26 L270.50,401.92 L270.75,400.28 L271.00,397.69 L271.25,394.79 L271.50,392.56 L271.75,392.08 L272.00,393.71 L272.25,396.77 L272.50,400.23 L272.75,403.38 L273.00,405.88 L273.25,407.67 L273.50,408.85 L273.75,409.58 L274.00,410.03 L274.25,410.32 L274.75,410.65 L275.25,410.79 L276.00,410.79 L276.50,410.64 L276.75,410.49 L277.00,410.28 L277.25,409.93 L277.50,409.36 L277.75,408.42 L278.00,406.96 L278.25,404.84 L278.50,402.03 L278.75,398.76 L279.00,395.56 L279.25,393.34 L279.50,393.04 L279.75,394.75 L280.00,397.64 L280.25,400.71 L280.50,403.29 L280.75,405.03 L281.00,405.80 L281.25,405.58 L281.50,404.43 L281.75,402.53 L282.00,400.20 L282.25,397.99 L282.50,396.69 L282.75,396.98 L283.00,398.79 L283.50,404.01 L283.75,406.28 L284.00,408.00 L284.25,409.19 L284.50,409.96 L284.75,410.45 L285.00,410.76 L285.50,411.11 L286.25,411.37 L287.00,411.45 L288.00,411.37 L288.75,411.15 L289.50,410.75 L290.00,410.28 L290.25,409.93 L290.50,409.44 L290.75,408.75 L291.00,407.78 L291.25,406.45 L291.50,404.70 L291.75,402.48 L292.00,399.85 L292.25,396.90 L292.50,393.89 L292.75,391.17 L293.00,389.11 L293.25,387.87 L293.50,387.35 L293.75,387.39 L294.00,388.02 L294.25,389.40 L294.50,391.60 L294.75,394.38 L295.00,397.39 L295.25,400.26 L295.50,402.80 L295.75,404.89 L296.00,406.53 L296.25,407.76 L296.50,408.64 L296.75,409.26 L297.00,409.69 L297.25,409.99 L297.75,410.36 L298.50,410.64 L299.25,410.72 L300.00,410.63 L300.75,410.36 L301.25,410.04 L301.50,409.81 L301.75,409.50 L302.00,409.06 L302.25,408.44 L302.50,407.54 L302.75,406.27 L303.00,404.51 L303.25,402.21 L303.50,399.33 L303.75,395.96 L304.00,392.32 L304.25,388.78 L304.50,385.84 L304.75,383.88 L305.00,382.91 L305.25,382.72 L305.50,383.22 L305.75,384.60 L306.00,387.00 L306.25,390.26 L306.50,393.93 L306.75,397.53 L307.00,400.75 L307.25,403.43 L307.50,405.54 L307.75,407.12 L308.00,408.26 L308.25,409.07 L308.50,409.65 L308.75,410.06 L309.00,410.38 L309.50,410.83 L310.25,411.29 L311.25,411.67 L312.25,411.85 L313.00,411.85 L313.50,411.74 L313.75,411.63 L314.00,411.44 L314.25,411.15 L314.50,410.70 L314.75,410.04 L315.00,409.16 L315.25,408.04 L315.75,405.39 L316.00,404.19 L316.25,403.43 L316.50,403.36 L316.75,404.00 L317.00,405.14 L317.50,407.82 L317.75,408.99 L318.00,409.93 L318.25,410.63 L318.50,411.12 L318.75,411.45 L319.00,411.66 L319.50,411.87 L320.25,411.93 L321.00,411.83 L321.75,411.59 L322.50,411.18 L323.00,410.76 L323.50,410.20 L323.75,409.84 L324.00,409.41 L324.25,408.91 L324.50,408.30 L324.75,407.57 L325.00,406.68 L325.25,405.55 L325.50,404.05 L325.75,401.79 L326.00,397.82 L326.25,390.32 L326.50,377.22 L326.75,358.77 L327.00,342.87 L327.25,344.98 L327.75,380.02 L328.00,391.75 L328.25,398.23 L328.50,401.58 L328.75,403.44 L329.00,404.59 L329.25,405.30 L329.50,405.62 L329.75,405.52 L330.00,404.94 L330.25,403.82 L330.50,402.21 L331.00,398.22 L331.25,396.68 L331.50,396.20 L331.75,397.08 L332.00,399.04 L332.50,403.93 L332.75,406.05 L333.00,407.73 L333.25,408.96 L333.50,409.82 L333.75,410.39 L334.00,410.78 L334.25,411.05 L334.75,411.41 L335.50,411.73 L336.50,411.95 L337.75,411.99 L339.00,411.80 L340.00,411.43 L340.50,411.15 L340.75,410.95 L341.00,410.69 L341.25,410.34 L341.50,409.83 L341.75,409.08 L342.00,408.02 L342.25,406.57 L342.50,404.67 L342.75,402.37 L343.25,397.17 L343.50,394.86 L343.75,393.22 L344.00,392.44 L344.25,392.33 L344.50,392.45 L344.75,392.37 L345.00,391.81 L345.25,390.70 L345.75,387.66 L346.00,386.53 L346.25,386.21 L346.50,386.83 L346.75,388.12 L347.00,389.61 L347.25,390.87 L347.50,391.61 L347.75,391.80 L348.25,391.39 L348.50,391.66 L348.75,392.80 L349.00,394.84 L349.25,397.46 L349.50,400.27 L349.75,402.93 L350.00,405.23 L350.25,407.07 L350.50,408.45 L350.75,409.44 L351.00,410.12 L351.25,410.60 L351.50,410.93 L352.00,411.38 L352.75,411.80 L353.75,412.16 L355.00,412.37 L356.25,412.37 L357.00,412.21 L357.50,411.97 L357.75,411.74 L358.00,411.39 L358.25,410.87 L358.50,410.09 L358.75,409.00 L359.00,407.57 L359.25,405.82 L359.75,401.96 L360.00,400.44 L360.25,399.72 L360.50,400.06 L360.75,401.35 L361.00,403.20 L361.25,405.21 L361.50,407.09 L361.75,408.70 L362.00,409.96 L362.25,410.90 L362.50,411.56 L362.75,412.02 L363.00,412.33 L363.50,412.71 L364.25,413.04 L365.00,413.27 M377.75,413.31 L379.00,412.88 L379.75,412.48 L380.50,411.90 L381.00,411.36 L381.25,411.01 L381.50,410.60 L381.75,410.06 L382.00,409.30 L382.25,408.17 L382.50,406.38 L382.75,403.65 L383.00,399.78 L383.25,395.00 L383.50,390.41 L383.75,388.25 L384.00,390.01 L384.25,394.21 L384.50,398.56 L384.75,401.94 L385.00,404.09 L385.25,405.10 L385.50,405.09 L385.75,404.08 L386.00,401.93 L386.25,398.55 L386.50,394.21 L386.75,390.02 L387.00,388.25 L387.25,390.37 L387.50,394.92 L387.75,399.65 L388.00,403.47 L388.25,406.16 L388.50,407.91 L388.75,409.01 L389.00,409.73 L389.25,410.23 L389.50,410.61 L390.00,411.16 L390.50,411.53 L391.25,411.86 L392.00,411.98 L392.75,411.92 L393.50,411.66 L394.00,411.36 L394.50,410.92 L394.75,410.63 L395.00,410.28 L395.25,409.84 L395.50,409.26 L395.75,408.43 L396.00,407.16 L396.25,405.14 L396.50,402.04 L396.75,397.64 L397.00,392.18 L397.25,386.95 L397.50,384.50 L397.75,386.55 L398.00,391.37 L398.25,396.38 L398.50,400.28 L398.75,402.76 L399.00,403.94 L399.25,403.94 L399.50,402.78 L399.75,400.30 L400.00,396.39 L400.25,391.37 L400.50,386.53 L400.75,384.50 L401.00,387.00 L401.25,392.31 L401.50,397.85 L401.75,402.32 L402.00,405.49 L402.25,407.56 L402.50,408.88 L402.75,409.76 L403.00,410.39 L403.25,410.88 L403.50,411.28 L404.00,411.93 L404.75,412.62 L405.50,413.12 L406.50,413.58 L406.75,413.67 M496.75,413.85 L497.00,413.60 L497.25,413.50 L497.50,413.60 L497.75,413.85 L498.00,414.19 M551.00,414.14 L552.25,413.67 L553.25,413.13 L554.00,412.58 L554.75,411.82 L555.25,411.13 L555.50,410.67 L555.75,410.09 L556.00,409.26 L556.25,408.03 L556.50,406.12 L556.75,403.20 L557.00,398.89 L557.25,392.95 L557.50,385.43 L557.75,376.84 L558.00,368.33 L558.25,361.71 L558.50,359.00 L558.75,361.17 L559.00,367.22 L559.50,382.93 L559.75,389.46 L560.00,393.97 L560.25,396.10 L560.50,395.71 L560.75,392.76 L561.00,387.30 L561.25,379.66 L561.75,361.52 L562.00,354.54 L562.25,352.00 L562.50,355.02 L562.75,362.49 L563.00,372.12 L563.25,381.84 L563.50,390.36 L563.75,397.07 L564.00,401.94 L564.25,405.24 L564.50,407.38 L564.75,408.75 L565.00,409.67 L565.25,410.32 L565.50,410.81 L566.00,411.57 L566.50,412.14 L567.25,412.79 L568.25,413.42 L569.50,413.95 L570.25,414.19 M590.00,414.14 L590.50,413.39 L590.75,413.11 L591.00,413.00 L591.25,413.11 L591.50,413.39 L592.25,414.47 M609.25,414.09 L610.25,413.66 L611.00,413.19 L611.50,412.76 L611.75,412.49 L612.00,412.14 L612.25,411.67 L612.50,410.96 L612.75,409.84 L613.00,408.06 L613.25,405.33 L613.50,401.39 L613.75,396.22 L614.00,390.11 L614.25,383.91 L614.50,378.99 L614.75,377.00 L615.00,378.74 L615.25,383.41 L615.50,389.34 L615.75,395.15 L616.00,399.98 L616.25,403.47 L616.50,405.56 L616.75,406.36 L617.00,405.95 L617.25,404.32 L617.50,401.44 L617.75,397.38 L618.00,392.46 L618.25,387.43 L618.50,383.47 L618.75,382.00 L619.00,383.71 L619.25,387.90 L619.50,393.19 L619.75,398.39 L620.00,402.80 L620.25,406.14 L620.50,408.46 L620.75,409.95 L621.00,410.88 L621.25,411.46 L621.50,411.83 L621.75,412.09 L622.25,412.44 L623.00,412.72 L623.75,412.82 L624.50,412.74 L625.25,412.48 L625.75,412.16 L626.00,411.90 L626.25,411.54 L626.50,410.97 L626.75,410.04 L627.00,408.55 L627.25,406.23 L627.50,402.87 L627.75,398.45 L628.00,393.22 L628.25,387.91 L628.50,383.70 L628.75,382.00 L629.00,383.50 L629.25,387.51 L629.50,392.60 L629.75,397.55 L630.00,401.62 L630.25,404.44 L630.50,405.93 L630.75,406.09 L631.00,404.96 L631.25,402.55 L631.50,398.98 L631.75,394.60 L632.00,390.09 L632.25,386.55 L632.50,385.25 L632.75,386.83 L633.00,390.68 L633.25,395.51 L633.50,400.26 L633.75,404.29 L634.00,407.36 L634.25,409.50 L634.50,410.89 L634.75,411.78 L635.00,412.34 L635.25,412.73 L635.75,413.24 L636.50,413.74 L637.50,414.19 M951.00,414.11 L952.00,413.63 L952.75,413.13 L953.50,412.42 L954.00,411.78 L954.50,410.94 L954.75,410.42 L955.00,409.81 L955.25,409.09 L955.50,408.24 L955.75,407.21 L956.00,405.96 L956.25,404.40 L956.50,402.44 L956.75,399.93 L957.00,396.64 L957.25,392.30 L957.50,386.55 L957.75,378.97 L958.00,369.12 L958.25,356.79 L958.50,342.34 L958.75,327.60 L959.00,316.43 L959.25,313.45 L959.50,320.15 L959.75,333.32 L960.00,348.29 L960.25,362.01 L960.50,373.34 L960.75,382.23 L961.00,389.03 L961.25,394.16 L961.50,398.04 L961.75,400.98 L962.00,403.25 L962.25,405.02 L962.50,406.44 L962.75,407.59 L963.00,408.54 L963.25,409.33 L963.50,410.00 L963.75,410.56 L964.00,411.04 L964.50,411.82 L965.00,412.39 L965.50,412.78 L965.75,412.89 L966.00,412.93 L966.25,412.87 L966.50,412.71 L967.00,412.22 L967.25,412.02 L967.50,412.00 L967.75,412.21 L968.00,412.60 L968.50,413.49 L968.75,413.85 L969.00,414.13 L969.25,414.33" fill="none" stroke="#141414" stroke-width="0.84" stroke-linejoin="round" stroke-linecap="butt"/>
<rect x="57.3" y="29" width="218.75" height="161.00" fill="none" stroke="#33b558" stroke-width="1.85"/>
<rect x="352.3" y="23.6" width="30.90" height="162.90" fill="none" stroke="#ed1c24" stroke-width="1.85"/>
<rect x="483.7" y="29.7" width="18.80" height="156.10" fill="none" stroke="#33b558" stroke-width="1.85"/>
<rect x="532" y="35.7" width="27.90" height="152.10" fill="none" stroke="#33b558" stroke-width="1.85"/>
<rect x="146.4" y="247.9" width="221.00" height="171.70" fill="none" stroke="#33b558" stroke-width="1.85"/>
<rect x="376.9" y="231.75" width="30.90" height="188.45" fill="none" stroke="#ed1c24" stroke-width="1.85"/>
<rect x="551.2" y="233.25" width="17.85" height="185.05" fill="none" stroke="#33b558" stroke-width="1.85"/>
<rect x="608.4" y="244.3" width="30.40" height="174.00" fill="none" stroke="#33b558" stroke-width="1.85"/>
<rect x="945.7" y="20.9" width="27.75" height="399.60" fill="none" stroke="#33b558" stroke-width="1.85"/>
<line x1="0.8" y1="443.5" x2="1022.3" y2="443.5" stroke="#222" stroke-width="1"/>
<line x1="38.50" y1="443.5" x2="38.50" y2="451.50" stroke="#222" stroke-width="1"/>
<line x1="101.18" y1="443.5" x2="101.18" y2="451.50" stroke="#222" stroke-width="1"/>
<line x1="163.86" y1="443.5" x2="163.86" y2="451.50" stroke="#222" stroke-width="1"/>
<line x1="226.54" y1="443.5" x2="226.54" y2="451.50" stroke="#222" stroke-width="1"/>
<line x1="289.22" y1="443.5" x2="289.22" y2="451.50" stroke="#222" stroke-width="1"/>
<line x1="351.90" y1="443.5" x2="351.90" y2="451.50" stroke="#222" stroke-width="1"/>
<line x1="414.58" y1="443.5" x2="414.58" y2="451.50" stroke="#222" stroke-width="1"/>
<line x1="477.26" y1="443.5" x2="477.26" y2="451.50" stroke="#222" stroke-width="1"/>
<line x1="539.94" y1="443.5" x2="539.94" y2="451.50" stroke="#222" stroke-width="1"/>
<line x1="602.62" y1="443.5" x2="602.62" y2="451.50" stroke="#222" stroke-width="1"/>
<line x1="665.30" y1="443.5" x2="665.30" y2="451.50" stroke="#222" stroke-width="1"/>
<line x1="727.98" y1="443.5" x2="727.98" y2="451.50" stroke="#222" stroke-width="1"/>
<line x1="790.66" y1="443.5" x2="790.66" y2="451.50" stroke="#222" stroke-width="1"/>
<line x1="853.34" y1="443.5" x2="853.34" y2="451.50" stroke="#222" stroke-width="1"/>
<line x1="916.02" y1="443.5" x2="916.02" y2="451.50" stroke="#222" stroke-width="1"/>
<line x1="978.70" y1="443.5" x2="978.70" y2="451.50" stroke="#222" stroke-width="1"/>
<path d="M0.89,443.5 v3.2 M7.16,443.5 v3.2 M13.43,443.5 v3.2 M19.70,443.5 v3.2 M25.96,443.5 v3.2 M32.23,443.5 v3.2 M44.77,443.5 v3.2 M51.04,443.5 v3.2 M57.30,443.5 v3.2 M63.57,443.5 v3.2 M69.84,443.5 v3.2 M76.11,443.5 v3.2 M82.38,443.5 v3.2 M88.64,443.5 v3.2 M94.91,443.5 v3.2 M107.45,443.5 v3.2 M113.72,443.5 v3.2 M119.98,443.5 v3.2 M126.25,443.5 v3.2 M132.52,443.5 v3.2 M138.79,443.5 v3.2 M145.06,443.5 v3.2 M151.32,443.5 v3.2 M157.59,443.5 v3.2 M170.13,443.5 v3.2 M176.40,443.5 v3.2 M182.66,443.5 v3.2 M188.93,443.5 v3.2 M195.20,443.5 v3.2 M201.47,443.5 v3.2 M207.74,443.5 v3.2 M214.00,443.5 v3.2 M220.27,443.5 v3.2 M232.81,443.5 v3.2 M239.08,443.5 v3.2 M245.34,443.5 v3.2 M251.61,443.5 v3.2 M257.88,443.5 v3.2 M264.15,443.5 v3.2 M270.42,443.5 v3.2 M276.68,443.5 v3.2 M282.95,443.5 v3.2 M295.49,443.5 v3.2 M301.76,443.5 v3.2 M308.02,443.5 v3.2 M314.29,443.5 v3.2 M320.56,443.5 v3.2 M326.83,443.5 v3.2 M333.10,443.5 v3.2 M339.36,443.5 v3.2 M345.63,443.5 v3.2 M358.17,443.5 v3.2 M364.44,443.5 v3.2 M370.70,443.5 v3.2 M376.97,443.5 v3.2 M383.24,443.5 v3.2 M389.51,443.5 v3.2 M395.78,443.5 v3.2 M402.04,443.5 v3.2 M408.31,443.5 v3.2 M420.85,443.5 v3.2 M427.12,443.5 v3.2 M433.38,443.5 v3.2 M439.65,443.5 v3.2 M445.92,443.5 v3.2 M452.19,443.5 v3.2 M458.46,443.5 v3.2 M464.72,443.5 v3.2 M470.99,443.5 v3.2 M483.53,443.5 v3.2 M489.80,443.5 v3.2 M496.06,443.5 v3.2 M502.33,443.5 v3.2 M508.60,443.5 v3.2 M514.87,443.5 v3.2 M521.14,443.5 v3.2 M527.40,443.5 v3.2 M533.67,443.5 v3.2 M546.21,443.5 v3.2 M552.48,443.5 v3.2 M558.74,443.5 v3.2 M565.01,443.5 v3.2 M571.28,443.5 v3.2 M577.55,443.5 v3.2 M583.82,443.5 v3.2 M590.08,443.5 v3.2 M596.35,443.5 v3.2 M608.89,443.5 v3.2 M615.16,443.5 v3.2 M621.42,443.5 v3.2 M627.69,443.5 v3.2 M633.96,443.5 v3.2 M640.23,443.5 v3.2 M646.50,443.5 v3.2 M652.76,443.5 v3.2 M659.03,443.5 v3.2 M671.57,443.5 v3.2 M677.84,443.5 v3.2 M684.10,443.5 v3.2 M690.37,443.5 v3.2 M696.64,443.5 v3.2 M702.91,443.5 v3.2 M709.18,443.5 v3.2 M715.44,443.5 v3.2 M721.71,443.5 v3.2 M734.25,443.5 v3.2 M740.52,443.5 v3.2 M746.78,443.5 v3.2 M753.05,443.5 v3.2 M759.32,443.5 v3.2 M765.59,443.5 v3.2 M771.86,443.5 v3.2 M778.12,443.5 v3.2 M784.39,443.5 v3.2 M796.93,443.5 v3.2 M803.20,443.5 v3.2 M809.46,443.5 v3.2 M815.73,443.5 v3.2 M822.00,443.5 v3.2 M828.27,443.5 v3.2 M834.54,443.5 v3.2 M840.80,443.5 v3.2 M847.07,443.5 v3.2 M859.61,443.5 v3.2 M865.88,443.5 v3.2 M872.14,443.5 v3.2 M878.41,443.5 v3.2 M884.68,443.5 v3.2 M890.95,443.5 v3.2 M897.22,443.5 v3.2 M903.48,443.5 v3.2 M909.75,443.5 v3.2 M922.29,443.5 v3.2 M928.56,443.5 v3.2 M934.82,443.5 v3.2 M941.09,443.5 v3.2 M947.36,443.5 v3.2 M953.63,443.5 v3.2 M959.90,443.5 v3.2 M966.16,443.5 v3.2 M972.43,443.5 v3.2 M984.97,443.5 v3.2 M991.24,443.5 v3.2 M997.50,443.5 v3.2 M1003.77,443.5 v3.2 M1010.04,443.5 v3.2 M1016.31,443.5 v3.2" stroke="#555" stroke-width="0.8" fill="none"/>
<g class="tx">
<text x="38.50" y="469.1" text-anchor="middle" class="ax">7.7</text>
<text x="101.18" y="469.1" text-anchor="middle" class="ax">7.6</text>
<text x="163.86" y="469.1" text-anchor="middle" class="ax">7.5</text>
<text x="226.54" y="469.1" text-anchor="middle" class="ax">7.4</text>
<text x="289.22" y="469.1" text-anchor="middle" class="ax">7.3</text>
<text x="351.90" y="469.1" text-anchor="middle" class="ax">7.2</text>
<text x="414.58" y="469.1" text-anchor="middle" class="ax">7.1</text>
<text x="477.26" y="469.1" text-anchor="middle" class="ax">7.0</text>
<text x="539.94" y="469.1" text-anchor="middle" class="ax">6.9</text>
<text x="602.62" y="469.1" text-anchor="middle" class="ax">6.8</text>
<text x="665.30" y="469.1" text-anchor="middle" class="ax">6.7</text>
<text x="727.98" y="469.1" text-anchor="middle" class="ax">6.6</text>
<text x="790.66" y="469.1" text-anchor="middle" class="ax">6.5</text>
<text x="853.34" y="469.1" text-anchor="middle" class="ax">6.4</text>
<text x="916.02" y="469.1" text-anchor="middle" class="ax">6.3</text>
<text x="1007.5" y="469.1" text-anchor="middle" class="ax">ppm</text>
<text x="64" y="19.6" text-anchor="start" class="b" textLength="101" lengthAdjust="spacingAndGlyphs">Fluorinated phenyl ring</text>
<text x="360.6" y="13.8" text-anchor="middle" class="b">5</text>
<text x="487.75" y="21.4" text-anchor="middle" class="b">8</text>
<text x="538.3" y="27.3" text-anchor="middle" class="b">6</text>
<text x="951.4" y="11.7" text-anchor="middle" class="b">3</text>
<text x="154.6" y="237.1" text-anchor="start" class="b" textLength="100.6" lengthAdjust="spacingAndGlyphs">Fluorinated phenyl ring</text>
<text x="384.25" y="222.7" text-anchor="middle" class="b">5</text>
<text x="556.1" y="224.1" text-anchor="middle" class="b">8</text>
<text x="614.4" y="234.75" text-anchor="middle" class="b">6</text>
<text x="727.25" y="60.3" class="r" textLength="98.2" lengthAdjust="spacingAndGlyphs">1H-{19F} in acetone-d6</text>
<text x="724.1" y="174.9" class="r" textLength="73.2" lengthAdjust="spacingAndGlyphs">1H in acetone-d6</text>
<text x="727.9" y="292.9" class="r" textLength="74.4" lengthAdjust="spacingAndGlyphs">1H-{19F} in CDCl3</text>
<text x="724.75" y="410.75" class="r" textLength="49.4" lengthAdjust="spacingAndGlyphs">1H in CDCl3</text>
</g>
</svg>
</body></html>
